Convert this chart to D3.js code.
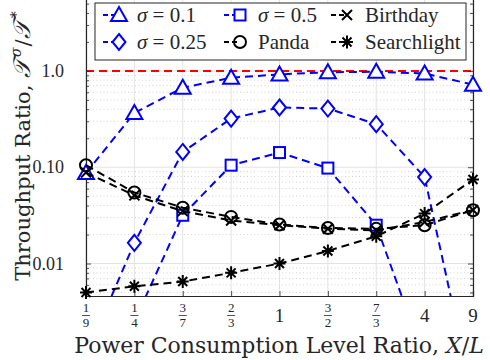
<!DOCTYPE html>
<html>
<head>
<meta charset="utf-8">
<script src="https://cdn.jsdelivr.net/npm/d3@7"></script>
<style>
  body { margin: 0; background: #fff; }
  svg { display: block; font-family: "Liberation Serif", "DejaVu Serif", serif; }
</style>
</head>
<body>
<div class="canvas"></div>
<script>
// x categories (power consumption level ratio X/L)
const categories = [
  { num: "1", den: "9" },
  { num: "1", den: "4" },
  { num: "3", den: "7" },
  { num: "2", den: "3" },
  { num: "1" },
  { num: "3", den: "2" },
  { num: "7", den: "3" },
  { num: "4" },
  { num: "9" },
];
const catKeys = ["1/9", "1/4", "3/7", "2/3", "1", "3/2", "7/3", "4", "9"];

// throughput ratios
const sigma01 = [0.087, 0.366, 0.67, 0.85, 0.92, 0.97, 0.98, 0.94, 0.72];
const sigma025 = [0.0011, 0.0164, 0.144, 0.32, 0.417, 0.407, 0.28, 0.079, 0.0004];
const sigma05 = [0.0001, 0.0025, 0.0317, 0.105, 0.142, 0.098, 0.025, 0.001, 0.00001];
const panda = [0.105, 0.0546, 0.038, 0.0305, 0.0254, 0.0234, 0.0229, 0.025, 0.0358];
const birthday = [0.088, 0.051, 0.035, 0.028, 0.025, 0.023, 0.022, 0.027, 0.036];
const searchlight = [0.005, 0.0058, 0.0065, 0.008, 0.01, 0.0135, 0.0192, 0.033, 0.0745];

const yTicks = [0.01, 0.1, 1];
const yTickLabels = ["0.01", "0.10", "1.0"];

const series = [
  { name: "σ = 0.1", values: sigma01, color: "#0000ff", marker: "triangle" },
  { name: "σ = 0.25", values: sigma025, color: "#0000ff", marker: "diamond" },
  { name: "σ = 0.5", values: sigma05, color: "#0000ff", marker: "square" },
  { name: "Panda", values: panda, color: "#000", marker: "circle" },
  { name: "Birthday", values: birthday, color: "#000", marker: "cross" },
  { name: "Searchlight", values: searchlight, color: "#000", marker: "asterisk" },
];

const W = 490, H = 360;
const plot = { left: 86, right: 473, top: -5, bottom: 296 };
const textColor = "#262626";
const titleFont = "'DejaVu Serif', serif";

const svg = d3.select(".canvas").append("svg").attr("width", W).attr("height", H);

const x = d3.scalePoint().domain(catKeys).range([plot.left, plot.right]);
const decade = 96.3;
const yMin = 0.0046;
const y = d3.scaleLog().domain([yMin, yMin * Math.pow(10, (plot.bottom - plot.top) / decade)])
  .range([plot.bottom, plot.top]);

svg.append("defs").append("clipPath").attr("id", "clip")
  .append("rect").attr("x", plot.left).attr("y", plot.top)
  .attr("width", plot.right - plot.left).attr("height", plot.bottom - plot.top);

// grid
const grid = svg.append("g");
const minor = [];
for (let e = -3; e <= 0; e++) {
  for (let m = 2; m <= 9; m++) {
    const v = m * Math.pow(10, e);
    if (v > y.domain()[0] && v < y.domain()[1]) minor.push(v);
  }
}
grid.selectAll(".minor").data(minor).enter().append("line")
  .attr("x1", plot.left).attr("x2", plot.right)
  .attr("y1", (d) => y(d)).attr("y2", (d) => y(d))
  .attr("stroke", "#c8c8c8").attr("stroke-width", 0.8).attr("stroke-dasharray", "1,2.5");
grid.selectAll(".major").data(yTicks).enter().append("line")
  .attr("x1", plot.left).attr("x2", plot.right)
  .attr("y1", (d) => y(d)).attr("y2", (d) => y(d))
  .attr("stroke", "#e3e3e3").attr("stroke-width", 1);
grid.selectAll(".vmajor").data(catKeys).enter().append("line")
  .attr("x1", (d) => x(d)).attr("x2", (d) => x(d))
  .attr("y1", plot.top).attr("y2", plot.bottom)
  .attr("stroke", "#e3e3e3").attr("stroke-width", 1);

// reference line at 1.0
svg.append("line")
  .attr("x1", plot.left).attr("x2", plot.right)
  .attr("y1", y(1)).attr("y2", y(1))
  .attr("stroke", "#ff0000").attr("stroke-width", 2).attr("stroke-dasharray", "8,5");

// axes
const yLeft = d3.axisLeft(y).tickValues(yTicks.concat(minor)).tickSize(-5).tickFormat("");
const yRight = d3.axisRight(y).tickValues(yTicks.concat(minor)).tickSize(-5).tickFormat("");
const xBottom = d3.axisBottom(x).tickSize(-5).tickFormat("");
const gl = svg.append("g").attr("transform", `translate(${plot.left},0)`).call(yLeft);
const gr = svg.append("g").attr("transform", `translate(${plot.right},0)`).call(yRight);
const gb = svg.append("g").attr("transform", `translate(0,${plot.bottom})`).call(xBottom);
[gl, gr, gb].forEach((g) => {
  g.selectAll("path").attr("stroke", textColor).attr("stroke-width", 1.2);
  g.selectAll("line").attr("stroke", textColor).attr("stroke-width", 0.8);
});
// shorter minor ticks
[gl, gr].forEach((g) => {
  g.selectAll(".tick").filter((d) => !yTicks.includes(d)).select("line")
    .attr("x2", g === gl ? 3 : -3);
});

// y tick labels
svg.selectAll(".ylab").data(yTicks).enter().append("text")
  .attr("x", 64).attr("y", (d) => y(d) + 6)
  .attr("text-anchor", "end").attr("font-size", 18).attr("fill", textColor)
  .text((d, i) => yTickLabels[i]);

// x tick labels
const xl = svg.append("g");
categories.forEach((c, i) => {
  const cx = x(catKeys[i]);
  if (c.den) {
    xl.append("text").attr("x", cx).attr("y", 312).attr("text-anchor", "middle")
      .attr("font-size", 13).attr("fill", textColor).text(c.num);
    xl.append("line").attr("x1", cx - 4).attr("x2", cx + 4).attr("y1", 315.5).attr("y2", 315.5)
      .attr("stroke", textColor).attr("stroke-width", 0.8);
    xl.append("text").attr("x", cx).attr("y", 327).attr("text-anchor", "middle")
      .attr("font-size", 13).attr("fill", textColor).text(c.den);
  } else {
    xl.append("text").attr("x", cx).attr("y", 322).attr("text-anchor", "middle")
      .attr("font-size", 19).attr("fill", textColor).text(c.num);
  }
});

// axis titles
const xt = svg.append("text").attr("x", 279).attr("y", 353).attr("text-anchor", "middle")
  .attr("font-family", titleFont).attr("font-size", 22).attr("fill", textColor);
xt.append("tspan").text("Power Consumption Level Ratio, ");
xt.append("tspan").attr("font-style", "italic").text("X");
xt.append("tspan").text("/");
xt.append("tspan").attr("font-style", "italic").text("L");

const yt = svg.append("text").attr("transform", "translate(30,146) rotate(-90)")
  .attr("text-anchor", "middle").attr("font-family", titleFont)
  .attr("font-size", 21).attr("fill", textColor);
yt.append("tspan").text("Throughput Ratio, ");
yt.append("tspan").attr("font-style", "italic").attr("font-size", 24).text("𝒯");
yt.append("tspan").attr("font-size", 14).attr("dx", 3).attr("dy", -9).attr("font-style", "italic").text("σ");
yt.append("tspan").attr("dx", 1).attr("dy", 9).text("/");
yt.append("tspan").attr("font-style", "italic").attr("font-size", 24).text("𝒯");
yt.append("tspan").attr("font-size", 14).attr("dx", 3).attr("dy", -9).text("*");

// marker drawing
function drawMarker(g, type, cx, cy, color) {
  const m = g.append("g").attr("transform", `translate(${cx},${cy})`)
    .attr("fill", "none").attr("stroke", color).attr("stroke-width", 2);
  if (type === "triangle") {
    m.append("path").attr("d", "M0,-8 L8,6 L-8,6 Z").attr("fill", "#fff");
  } else if (type === "diamond") {
    m.append("path").attr("d", "M0,-8 L6.5,0 L0,8 L-6.5,0 Z").attr("fill", "#fff");
  } else if (type === "square") {
    m.append("rect").attr("x", -5.5).attr("y", -5.5).attr("width", 11).attr("height", 11).attr("fill", "#fff");
  } else if (type === "circle") {
    m.append("circle").attr("r", 6);
  } else if (type === "cross") {
    m.append("path").attr("d", "M-5,-5 L5,5 M-5,5 L5,-5");
  } else if (type === "asterisk") {
    m.append("path").attr("d", "M-6,0 L6,0 M0,-6.5 L0,6.5 M-4.5,-4.5 L4.5,4.5 M-4.5,4.5 L4.5,-4.5");
  }
}

const line = d3.line().x((d, i) => x(catKeys[i])).y((d) => y(d));

series.forEach((s) => {
  svg.append("path").datum(s.values)
    .attr("clip-path", "url(#clip)")
    .attr("d", line)
    .attr("fill", "none").attr("stroke", s.color).attr("stroke-width", 2)
    .attr("stroke-dasharray", "8,5");
  const g = svg.append("g");
  s.values.forEach((v, i) => {
    if (v >= y.domain()[0]) drawMarker(g, s.marker, x(catKeys[i]), y(v), s.color);
  });
});

// legend
const legend = svg.append("g");
legend.append("rect").attr("x", 95).attr("y", 3).attr("width", 371).attr("height", 57)
  .attr("fill", "#fff").attr("stroke", textColor).attr("stroke-width", 1);
const legendCols = [119, 240, 347];
const legendRows = [15, 42];
series.forEach((s, i) => {
  const col = Math.floor(i / 2), row = i % 2;
  const cx = legendCols[col], cy = legendRows[row];
  legend.append("line").attr("x1", cx - 16).attr("x2", cx).attr("y1", cy).attr("y2", cy)
    .attr("stroke", s.color).attr("stroke-width", 2).attr("stroke-dasharray", "5,3");
  drawMarker(legend, s.marker, cx, cy, s.color);
  const t = legend.append("text").attr("x", cx + 18).attr("y", cy + 7)
    .attr("font-size", 21).attr("fill", textColor);
  if (s.name.startsWith("σ")) {
    t.append("tspan").attr("font-style", "italic").text("σ");
    t.append("tspan").text(s.name.slice(1));
  } else {
    t.text(s.name);
  }
});
</script>
</body>
</html>
